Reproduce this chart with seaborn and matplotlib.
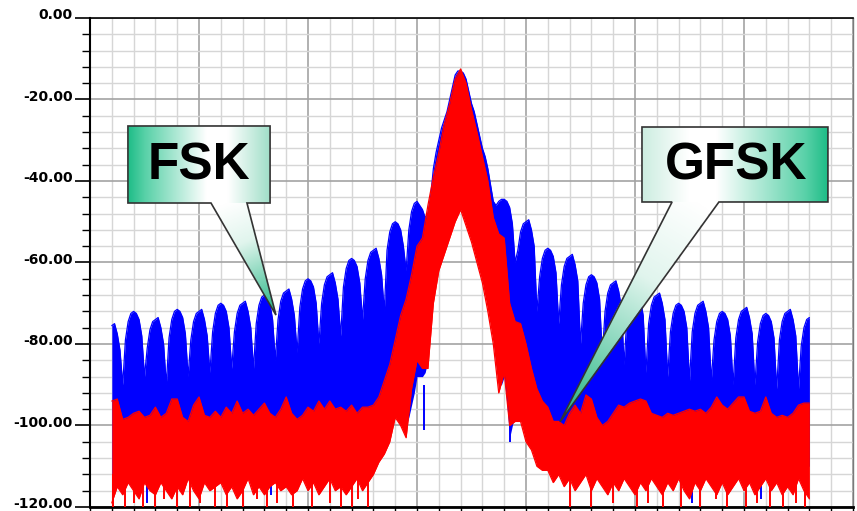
import numpy as np
import pandas as pd
import matplotlib
matplotlib.use("Agg")
import matplotlib.pyplot as plt
from matplotlib.patches import Polygon
from matplotlib.ticker import MultipleLocator, FixedLocator
import seaborn as sns

# ---------------- data (frequency in minor grid divisions, level in dB) ----------------
fsk_freq = np.arange(1.0, 33.001, 0.125)   # FSK spectrum bins
gfsk_freq = np.arange(1.0, 33.001, 0.25)   # GFSK spectrum bins

# FSK (blue) upper / lower envelopes
fsk_hi = [
    -75.5, -75, -77.5, -81.5, -90, -79, -74.5, -72.5,
    -72, -72.5, -74, -78, -88, -81, -76.5, -74.5,
    -74, -73.5, -76, -80, -90, -78.5, -74, -72,
    -71.5, -72, -73.5, -77.5, -88, -79, -74.5, -72.5,
    -72, -71.5, -74, -78, -87, -77, -72.5, -70.5,
    -70, -70.5, -72, -76, -86, -77, -72.5, -70.5,
    -70, -69.5, -72, -76, -86, -75, -70.5, -68.5,
    -68, -68.5, -70, -74, -84, -74, -69.5, -67.5,
    -67, -66.5, -69, -73, -82, -71, -66.5, -64.5,
    -64, -64.5, -66, -70, -80, -70, -65.5, -63.5,
    -63, -62.5, -65, -69, -78, -66, -61.5, -59.5,
    -59, -59.5, -61, -65, -74, -64, -59.5, -57.5,
    -57, -56.5, -59, -63, -72, -57, -52.5, -50.5,
    -50, -50.5, -52, -56, -62, -52, -47.5, -45.5,
    -45, -46, -47, -49, -48, -44, -37, -33,
    -30, -27, -25, -23, -20, -17, -14, -13,
    -13, -13.5, -15, -18, -21, -23, -26, -29,
    -32, -34, -37, -41, -45, -46, -45, -44.5,
    -44.5, -45, -46.5, -50.5, -60, -57, -52.5, -50.5,
    -50, -49.5, -52, -56, -72, -63.5, -59, -57,
    -56.5, -57, -58.5, -62.5, -75, -65.5, -61, -59,
    -58.5, -58, -60.5, -64.5, -80, -70, -65.5, -63.5,
    -63, -63.5, -65, -69, -83, -72, -67.5, -65.5,
    -65, -64.5, -67, -71, -85, -74, -69.5, -67.5,
    -67, -67.5, -69, -73, -87, -75, -70.5, -68.5,
    -68, -67.5, -70, -74, -88, -77, -72.5, -70.5,
    -70, -70.5, -72, -76, -89, -77, -72.5, -70.5,
    -70, -69.5, -72, -76, -89, -79, -74.5, -72.5,
    -72, -72.5, -74, -78, -90, -78.5, -74, -72,
    -71.5, -71, -73.5, -77.5, -90, -79.5, -75, -73,
    -72.5, -73, -74.5, -78.5, -91, -79, -74.5, -72.5,
    -72, -71.5, -74, -78, -91, -80.5, -76, -74,
    -73.5,
]
fsk_lo = [
    -112, -111, -110, -111, -111, -110, -109, -110,
    -110, -111, -112, -110, -109, -110, -111, -110,
    -111, -110, -109, -110, -110, -111, -112, -111,
    -109, -110, -111, -110, -110, -109, -108, -109,
    -111, -110, -109, -111, -112, -111, -110, -110,
    -110, -111, -111, -110, -109, -110, -112, -111,
    -109, -110, -110, -111, -111, -110, -109, -110,
    -111, -110, -110, -109, -109, -110, -111, -110,
    -110, -111, -112, -111, -110, -109, -108, -109,
    -109, -110, -110, -111, -111, -110, -110, -111,
    -111, -110, -109, -110, -110, -111, -112, -111,
    -110, -109, -109, -110, -111, -111, -110, -109,
    -108, -107, -106, -105, -104, -102, -100, -98,
    -97, -97, -98, -99, -100, -98, -95, -92,
    -88, -88, -88, -87, -84, -76, -68, -64,
    -60, -58, -56, -54, -52, -50, -48, -46,
    -45, -47, -49, -51, -53, -55, -58, -60,
    -63, -66, -70, -74, -79, -85, -90, -90,
    -88, -95, -103, -100, -97, -97, -97, -99,
    -102, -103, -104, -106, -108, -108, -109, -109,
    -110, -111, -110, -109, -109, -110, -111, -110,
    -111, -110, -109, -110, -110, -111, -112, -111,
    -110, -111, -110, -109, -109, -110, -110, -111,
    -109, -110, -111, -112, -110, -109, -110, -111,
    -111, -110, -109, -110, -111, -112, -110, -109,
    -110, -111, -112, -110, -110, -109, -110, -111,
    -109, -110, -111, -111, -110, -112, -111, -110,
    -111, -110, -109, -110, -110, -109, -110, -111,
    -110, -111, -109, -110, -111, -110, -109, -110,
    -112, -111, -110, -109, -109, -110, -111, -112,
    -110, -109, -111, -110, -110, -111, -110, -109,
    -109, -110, -110, -112, -111, -110, -109, -110,
    -110,
]

# GFSK (red) upper / lower envelopes
gfsk_hi = [
    -94, -93.5, -98.5, -98,
    -97, -96.5, -98, -97.5,
    -95.5, -98, -97, -93.5,
    -93.5, -98, -99, -95,
    -93, -97.5, -98, -96.5,
    -98, -95.5, -97, -94,
    -97, -96, -97.5, -96,
    -94.5, -97, -98, -96,
    -93, -97, -98.5, -97.5,
    -95.5, -96.5, -94, -96,
    -94, -96, -95.5, -96.5,
    -95, -97, -95.5, -95.5,
    -95, -93, -89, -85,
    -79, -73, -69, -63,
    -56, -54, -46, -39,
    -33, -26, -21, -15,
    -12.5, -16, -22.5, -28,
    -34, -40, -49, -53,
    -54, -70, -74.5, -75,
    -80, -86, -91, -94,
    -95.5, -99, -99, -100,
    -97, -95, -97, -92.5,
    -93.5, -98, -100, -99,
    -97, -95, -95.5, -94.5,
    -94, -93.5, -94, -97,
    -97.5, -98, -97, -97.5,
    -97, -96.5, -96, -96.5,
    -96, -97, -95.5, -93,
    -95, -96, -94.5, -93,
    -93, -96.5, -97, -96.5,
    -93, -97, -98, -97.5,
    -98, -97, -95, -94.5,
    -94.5,
]
gfsk_lo = [
    -119, -115, -117, -114,
    -116, -118, -114, -116,
    -117, -114, -116, -118,
    -115, -117, -113, -116,
    -118, -114, -116, -115,
    -114, -117, -115, -118,
    -116, -113, -117, -115,
    -117, -115, -114, -116,
    -115, -117, -116, -113,
    -116, -114, -117, -115,
    -113, -116, -115, -117,
    -115, -113, -116, -114,
    -112, -109, -107, -104,
    -98, -100, -103, -91,
    -84, -86, -86, -70,
    -62, -58, -54, -50,
    -47, -51, -55, -60,
    -65, -72, -80, -92,
    -87, -100, -99, -99,
    -104, -106, -110, -111,
    -111, -114, -112, -115,
    -113, -116, -114, -112,
    -116, -113, -115, -117,
    -114, -116, -113, -115,
    -117, -114, -116, -113,
    -115, -117, -114, -116,
    -113, -116, -118, -114,
    -116, -113, -115, -117,
    -114, -117, -115, -113,
    -116, -114, -117, -115,
    -113, -116, -114, -117,
    -115, -117, -113, -116,
    -118,
]

# deep noise spikes
gfsk_spike_f = [1.07, 1.6, 2.0, 2.45, 2.98, 3.4, 3.97, 4.6, 5.05, 5.73, 6.27, 7.03, 7.65,
                8.1, 8.56, 9.3, 10.2, 11.0, 11.5, 12.0, 12.3, 12.77, 22.0, 23.0, 24.0,
                25.1, 25.6, 26.3, 27.1, 28.0, 28.7, 29.2, 30.1, 30.6, 31.2, 31.8, 32.4, 32.8]
gfsk_spike_db = [-120, -120, -119, -120, -120, -118, -120, -120, -119, -120, -120, -120, -118,
                 -120, -119, -120, -120, -119, -120, -120, -118, -120, -120, -120, -119,
                 -120, -119, -120, -120, -120, -118, -120, -120, -119, -120, -120, -119, -120]
fsk_spike_f = [2.6, 8.3, 15.3, 19.25, 27.6, 30.8]
fsk_spike_db = [-119, -117, -101, -104, -119, -118]

y_ticks = [0, -20, -40, -60, -80, -100, -120]
y_tick_labels = ["0.00", "-20.00", "-40.00", "-60.00", "-80.00", "-100.00", "-120.00"]

labels = ["FSK", "GFSK"]

# ---------------- figure ----------------
sns.set_theme(style="white")
plt.rcParams['font.family'] = ['DejaVu Sans']

W, H = 857, 511
fig = plt.figure(figsize=(W / 100, H / 100), dpi=100)
ax = fig.add_axes([90 / W, 1 - 507 / H, (853 - 90) / W, (507 - 18) / H])

BLUE = "#0000ff"
RED = "#ff0000"

df_fsk = pd.DataFrame({"freq": fsk_freq, "hi": fsk_hi, "lo": fsk_lo})
df_gfsk = pd.DataFrame({"freq": gfsk_freq, "hi": gfsk_hi, "lo": gfsk_lo})

ax.fill_between(df_fsk["freq"], df_fsk["lo"], df_fsk["hi"], color=BLUE, lw=0, zorder=2)
sns.lineplot(data=df_fsk, x="freq", y="hi", color=BLUE, lw=0.9, ax=ax, zorder=2,
             errorbar=None, legend=False)
ax.vlines(fsk_spike_f, -90, fsk_spike_db, color=BLUE, lw=1.4, zorder=2)

ax.fill_between(df_gfsk["freq"], df_gfsk["lo"], df_gfsk["hi"], color=RED, lw=0, zorder=3)
sns.lineplot(data=df_gfsk, x="freq", y="hi", color=RED, lw=0.9, ax=ax, zorder=3,
             errorbar=None, legend=False)
sns.lineplot(data=df_gfsk, x="freq", y="lo", color=RED, lw=0.9, ax=ax, zorder=3,
             errorbar=None, legend=False)
ax.vlines(gfsk_spike_f, -112, gfsk_spike_db, color=RED, lw=1.4, zorder=3)

# ---------------- axes styling ----------------
ax.set_xlim(0, 35)
ax.set_ylim(-120, 0)
ax.set_xlabel("")
ax.set_ylabel("")
ax.xaxis.set_major_locator(MultipleLocator(5))
ax.xaxis.set_minor_locator(MultipleLocator(1))
ax.yaxis.set_major_locator(FixedLocator(y_ticks))
ax.yaxis.set_minor_locator(MultipleLocator(4))
ax.set_yticklabels([])
for v, lab in zip(y_ticks, y_tick_labels):
    ax.annotate(lab, xy=(0, v), xycoords=ax.get_yaxis_transform(),
                xytext=(-12.3, 2.0), textcoords="offset points",
                ha="right", va="center", fontsize=10, fontweight="bold",
                color="black", annotation_clip=False)
ax.tick_params(axis="x", which="both", labelbottom=False, direction="out",
               length=3, width=1, color="black", bottom=True)
ax.tick_params(axis="y", which="major", direction="out", length=11, width=1.2,
               color="black", left=True)
ax.tick_params(axis="y", which="minor", direction="out", length=6, width=1,
               color="black", left=True)
ax.set_axisbelow(True)
ax.grid(which="major", color="#a3a3a3", lw=1.2)
ax.grid(which="minor", color="#d6d6d6", lw=1.0)
for side, lw, col in [("left", 1.5, "black"), ("bottom", 2.0, "black"),
                      ("top", 1.2, "black"), ("right", 1.0, "#7a7a7a")]:
    ax.spines[side].set_visible(True)
    ax.spines[side].set_linewidth(lw)
    ax.spines[side].set_color(col)

# ---------------- callouts ----------------
SX, SY = 21.8, 4.075   # px per unit (for gradient direction only)
GREEN = np.array([0.12, 0.74, 0.53])
WHITE = np.array([1.0, 1.0, 1.0])


def gradient_patch(verts, start, end, stops, z):
    verts = np.asarray(verts, float)
    poly = Polygon(verts, closed=True, transform=ax.transData, facecolor="none",
                   edgecolor="none")
    ax.add_patch(poly)
    x0, x1 = verts[:, 0].min(), verts[:, 0].max()
    y0, y1 = verts[:, 1].min(), verts[:, 1].max()
    gx, gy = np.meshgrid(np.linspace(x0, x1, 240), np.linspace(y0, y1, 240))
    dx, dy = (end[0] - start[0]) * SX, (end[1] - start[1]) * SY
    t = ((gx - start[0]) * SX * dx + (gy - start[1]) * SY * dy) / (dx * dx + dy * dy)
    t = np.clip(t, 0, 1)
    pos = [s[0] for s in stops]
    img = np.zeros(gx.shape + (3,))
    for c in range(3):
        img[..., c] = np.interp(t, pos, [s[1][c] for s in stops])
    im = ax.imshow(img, extent=[x0, x1, y0, y1], origin="lower", aspect="auto",
                   interpolation="bilinear", zorder=z)
    im.set_clip_path(poly)


def callout(box, base, tip, stops_box, text, tx, ty):
    bx0, bx1, by0, by1 = box   # by0 = top, by1 = bottom
    tail = [(base[0], by1 + 0.6), (base[1], by1 + 0.6), tip]
    gradient_patch(tail, ((base[0] + base[1]) / 2, by1), tip,
                   [(0, WHITE), (0.35, np.array([0.88, 0.96, 0.93])), (1, GREEN * 0.95)], 6)
    rect = [(bx0, by0), (bx1, by0), (bx1, by1), (bx0, by1)]
    gradient_patch(rect, (bx0, by0), (bx1, by0), stops_box, 6)
    outline = [(bx0, by0), (bx1, by0), (bx1, by1), (base[1], by1), tip,
               (base[0], by1), (bx0, by1)]
    ax.add_patch(Polygon(outline, closed=True, facecolor="none", edgecolor="#333333",
                         lw=1.2, zorder=7, joinstyle="miter"))
    ax.text(tx, ty, text, ha="center", va="center", fontsize=37, fontweight="bold",
            family=["Liberation Sans", "DejaVu Sans"], color="black", zorder=8)


callout((1.74, 8.26, -26.5, -45.4), (5.55, 7.20), (8.53, -72.9),
        [(0, GREEN), (0.12, np.array([0.35, 0.82, 0.66])), (0.55, WHITE),
         (0.7, WHITE), (1, np.array([0.62, 0.87, 0.78]))],
        labels[0], 5.0, -36.3)
callout((25.32, 33.85, -26.75, -45.15), (26.7, 28.85), (21.56, -99.1),
        [(0, np.array([0.80, 0.93, 0.88])), (0.25, WHITE), (0.4, WHITE),
         (0.88, np.array([0.35, 0.82, 0.66])), (1, GREEN)],
        labels[1], 29.62, -36.3)

ax.set_xlim(0, 35)
ax.set_ylim(-120, 0)

fig.savefig("out.png", dpi=100)
